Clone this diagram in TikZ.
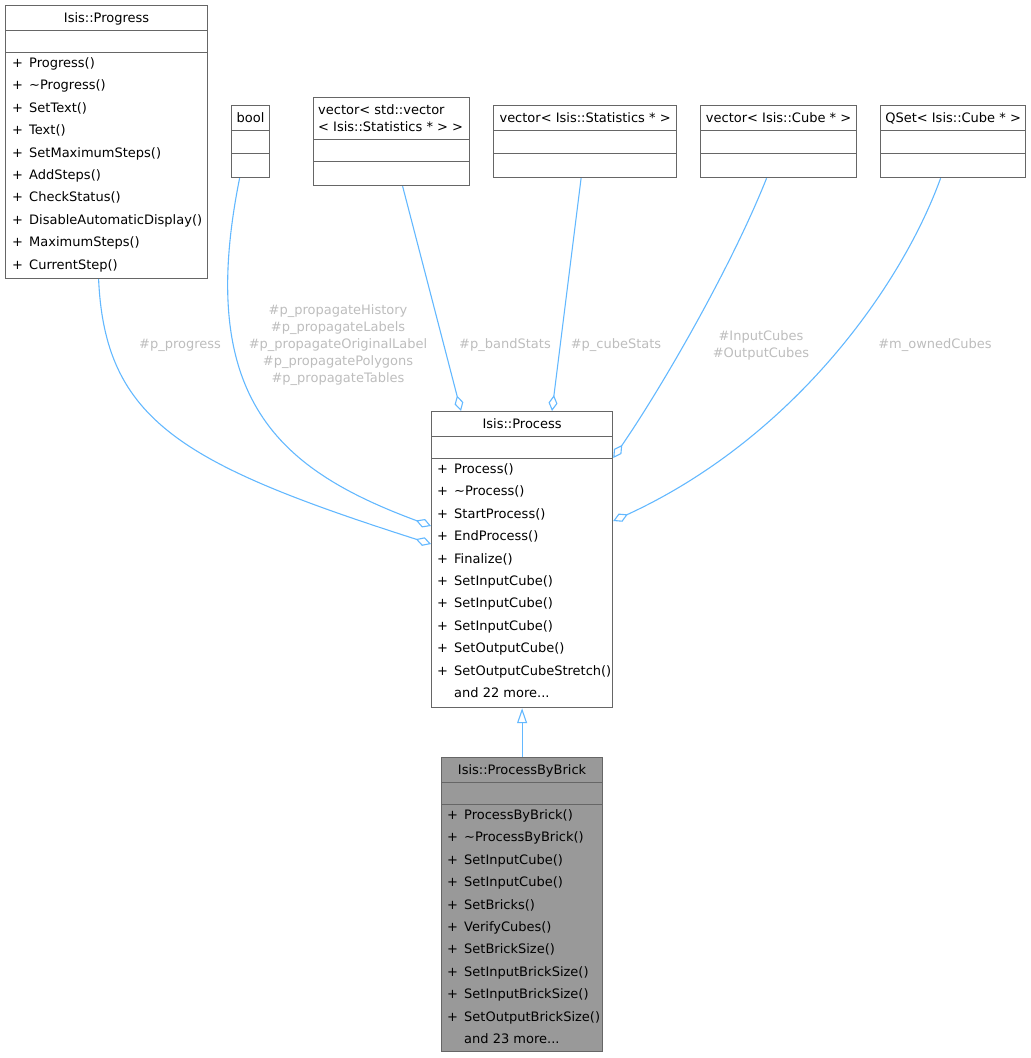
\documentclass[tikz,border=0pt]{standalone}
\usepackage{fontspec}
\setmainfont{DejaVu Sans}
\usetikzlibrary{arrows.meta, positioning, calc}
\definecolor{edgeblue}{HTML}{63B8FF}
\definecolor{boxline}{HTML}{666666}
\definecolor{lblgray}{HTML}{BDBDBD}
\definecolor{derivedfill}{HTML}{999999}
\newcommand{\mplus}[1]{\makebox[17pt][l]{+}#1}
\newcommand{\mmore}[1]{\hspace*{17pt}#1}

\begin{document}
\begin{tikzpicture}[x=1pt, y=-1pt, font=\fontsize{13}{17}\selectfont,
  classbox/.style={draw=boxline, line width=1.2pt, anchor=north west, inner sep=0pt},
  sepline/.style={draw=boxline, line width=1pt},
  title/.style={anchor=base, inner sep=0pt},
  member/.style={anchor=base west, inner sep=0pt},
  assoc/.style={draw=edgeblue, line width=1.1pt, -{Diamond[open, length=16pt, width=9pt]}},
  inherit/.style={draw=edgeblue, line width=1.1pt, -{Triangle[open, length=15pt, width=10pt]}},
  edgelabel/.style={text=lblgray, align=center, inner sep=0pt}]
  \useasboundingbox (0,0) rectangle (1031,1058);

  % Isis::Progress
  \node[classbox, minimum width=202pt, minimum height=273pt] (progress) at (5,5) {};
  \draw[sepline] ($(progress.north west)+(0,25.5)$) -- ++(202,0);
  \draw[sepline] ($(progress.north west)+(0,47.5)$) -- ++(202,0);
  \node[title] (progress-t) at ($(progress.north)+(0,17.5)$) {Isis::Progress};
  \foreach \m [count=\i from 0] in {Progress(), \textasciitilde Progress(), SetText(), Text(),
      SetMaximumSteps(), AddSteps(), CheckStatus(), DisableAutomaticDisplay(),
      MaximumSteps(), CurrentStep()}
    \node[member] (progress-m\i) at ($(progress.north west)+(7,62.5+22.4*\i)$) {\mplus{\m}};

  % bool
  \node[classbox, minimum width=38pt, minimum height=72pt] (bool) at (231,105) {};
  \draw[sepline] ($(bool.north west)+(0,25.5)$) -- ++(38,0);
  \draw[sepline] ($(bool.north west)+(0,48.5)$) -- ++(38,0);
  \node[title] (bool-t) at ($(bool.north)+(0,17.5)$) {bool};

  % vector< std::vector< Isis::Statistics * > >
  \node[classbox, minimum width=156pt, minimum height=88pt] (vecvec) at (313,97) {};
  \draw[sepline] ($(vecvec.north west)+(0,42.5)$) -- ++(156,0);
  \draw[sepline] ($(vecvec.north west)+(0,64.5)$) -- ++(156,0);
  \node[member] (vecvec-t1) at ($(vecvec.north west)+(5,17.5)$) {vector< std::vector};
  \node[member] (vecvec-t2) at ($(vecvec.north west)+(5,34.5)$) {< Isis::Statistics * > >};

  % vector< Isis::Statistics * >
  \node[classbox, minimum width=183pt, minimum height=72pt] (vecstats) at (493,105) {};
  \draw[sepline] ($(vecstats.north west)+(0,25.5)$) -- ++(183,0);
  \draw[sepline] ($(vecstats.north west)+(0,48.5)$) -- ++(183,0);
  \node[title] (vecstats-t) at ($(vecstats.north)+(0,17.5)$) {vector< Isis::Statistics * >};

  % vector< Isis::Cube * >
  \node[classbox, minimum width=156pt, minimum height=72pt] (veccube) at (700,105) {};
  \draw[sepline] ($(veccube.north west)+(0,25.5)$) -- ++(156,0);
  \draw[sepline] ($(veccube.north west)+(0,48.5)$) -- ++(156,0);
  \node[title] (veccube-t) at ($(veccube.north)+(0,17.5)$) {vector< Isis::Cube * >};

  % QSet< Isis::Cube * >
  \node[classbox, minimum width=145pt, minimum height=72pt] (qset) at (880,105) {};
  \draw[sepline] ($(qset.north west)+(0,25.5)$) -- ++(145,0);
  \draw[sepline] ($(qset.north west)+(0,48.5)$) -- ++(145,0);
  \node[title] (qset-t) at ($(qset.north)+(0,17.5)$) {QSet< Isis::Cube * >};

  % Isis::Process
  \node[classbox, minimum width=181pt, minimum height=296pt] (process) at (431,411) {};
  \draw[sepline] ($(process.north west)+(0,25.5)$) -- ++(181,0);
  \draw[sepline] ($(process.north west)+(0,47.5)$) -- ++(181,0);
  \node[title] (process-t) at ($(process.north)+(0,17.5)$) {Isis::Process};
  \foreach \m [count=\i from 0] in {Process(), \textasciitilde Process(), StartProcess(),
      EndProcess(), Finalize(), SetInputCube(), SetInputCube(), SetInputCube(),
      SetOutputCube(), SetOutputCubeStretch()}
    \node[member] (process-m\i) at ($(process.north west)+(6,62.5+22.4*\i)$) {\mplus{\m}};
  \node[member] (process-more) at ($(process.north west)+(6,62.5+22.4*10)$) {\mmore{and 22 more...}};

  % Isis::ProcessByBrick
  \node[classbox, fill=derivedfill, minimum width=161pt, minimum height=294pt] (brick) at (441,757) {};
  \draw[sepline] ($(brick.north west)+(0,25.5)$) -- ++(161,0);
  \draw[sepline] ($(brick.north west)+(0,47.5)$) -- ++(161,0);
  \node[title] (brick-t) at ($(brick.north)+(0,17.5)$) {Isis::ProcessByBrick};
  \foreach \m [count=\i from 0] in {ProcessByBrick(), \textasciitilde ProcessByBrick(),
      SetInputCube(), SetInputCube(), SetBricks(), VerifyCubes(), SetBrickSize(),
      SetInputBrickSize(), SetInputBrickSize(), SetOutputBrickSize()}
    \node[member] (brick-m\i) at ($(brick.north west)+(6,62.5+22.4*\i)$) {\mplus{\m}};
  \node[member] (brick-more) at ($(brick.north west)+(6,62.5+22.4*10)$) {\mmore{and 23 more...}};

  % connectors
  \draw[inherit] (brick.north) -- (process.south);
  \draw[assoc] ($(progress.south)+(-8,0)$) .. controls (105,420) and (181,464) .. ($(process.north west)+(0,133)$);
  \draw[assoc] ($(bool.south)+(-11,0)$) .. controls (195,400) and (280,470) .. ($(process.north west)+(0,115)$);
  \draw[assoc] ($(vecvec.south)+(11,0)$) -- ($(process.north west)+(30,0)$);
  \draw[assoc] ($(vecstats.south)+(-4,0)$) -- ($(process.north west)+(121,0)$);
  \draw[assoc] ($(veccube.south)+(-12,0)$) .. controls (730,270) and (660,390) .. ($(process.north east)+(0,47)$);
  \draw[assoc] ($(qset.south)+(-12.5,0)$) .. controls (900,290) and (790,440) .. ($(process.north east)+(0,110)$);

  % labels
  \node[edgelabel] (l-progress) at (180,345) {\#p\_progress};
  \node[edgelabel] (l-propagate) at (338,345) {\#p\_propagateHistory\\\#p\_propagateLabels\\\#p\_propagateOriginalLabel\\\#p\_propagatePolygons\\\#p\_propagateTables};
  \node[edgelabel] (l-band) at (505,345) {\#p\_bandStats};
  \node[edgelabel] (l-cube) at (616,345) {\#p\_cubeStats};
  \node[edgelabel] (l-inout) at (761,345) {\#InputCubes\\\#OutputCubes};
  \node[edgelabel] (l-owned) at (935,345) {\#m\_ownedCubes};
\end{tikzpicture}
\end{document}
